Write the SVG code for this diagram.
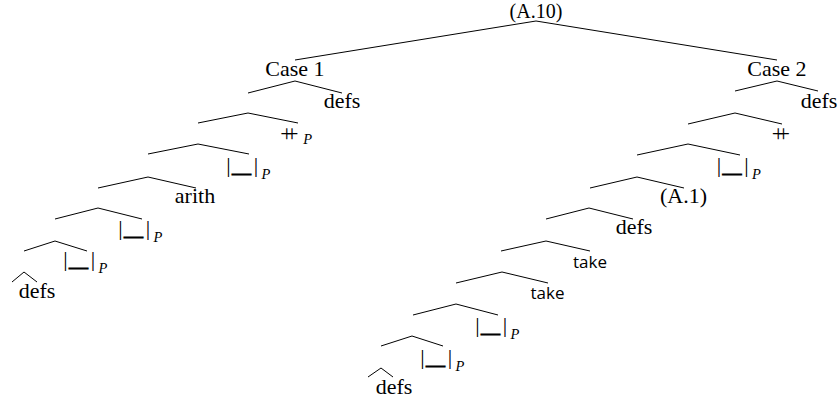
<svg xmlns="http://www.w3.org/2000/svg" width="839" height="401" viewBox="0 0 839 401">
<style>
text{font-family:'Liberation Serif','DejaVu Serif',serif;font-size:22px;fill:#000}
.m{text-anchor:middle}
.sf{font-family:'Open Sans','Liberation Sans',sans-serif;font-size:17px}
.us{stroke:#000;stroke-width:1}
.sub{font-style:italic;font-size:14.5px}
.pp{font-size:23px;letter-spacing:-7.7px}
#connectors line{stroke:#000;stroke-width:1;fill:none}
</style>
<rect width="839" height="401" fill="#fff"/>
<g id="connectors">
<line x1="536" y1="21" x2="295" y2="60"/><line x1="536" y1="21" x2="777" y2="60"/>
<line x1="295" y1="81" x2="248" y2="93"/><line x1="295" y1="81" x2="342" y2="93"/>
<line x1="248" y1="113" x2="198" y2="123"/><line x1="248" y1="113" x2="298" y2="123"/>
<line x1="198" y1="144" x2="148" y2="154"/><line x1="198" y1="144" x2="249" y2="154"/>
<line x1="148" y1="177" x2="98" y2="188"/><line x1="148" y1="177" x2="196" y2="188"/>
<line x1="98" y1="208" x2="55" y2="219"/><line x1="98" y1="208" x2="142" y2="219"/>
<line x1="55" y1="241" x2="24" y2="251"/><line x1="55" y1="241" x2="87" y2="251"/>
<line x1="24" y1="272" x2="12" y2="282"/><line x1="24" y1="272" x2="37" y2="282"/>
<line x1="777" y1="81" x2="735" y2="91"/><line x1="777" y1="81" x2="818" y2="91"/>
<line x1="735" y1="113" x2="688" y2="124"/><line x1="735" y1="113" x2="782" y2="124"/>
<line x1="688" y1="144" x2="637" y2="155"/><line x1="688" y1="144" x2="740" y2="155"/>
<line x1="637" y1="177" x2="590" y2="188"/><line x1="637" y1="177" x2="684" y2="188"/>
<line x1="589" y1="208" x2="546" y2="219"/><line x1="589" y1="208" x2="633" y2="219"/>
<line x1="546" y1="241" x2="501" y2="251"/><line x1="546" y1="241" x2="590" y2="251"/>
<line x1="502" y1="272" x2="456" y2="283"/><line x1="502" y1="272" x2="548" y2="283"/>
<line x1="456" y1="304" x2="413" y2="315"/><line x1="456" y1="304" x2="498" y2="315"/>
<line x1="412" y1="336" x2="381" y2="346"/><line x1="412" y1="336" x2="443" y2="346"/>
<line x1="381" y1="368" x2="368" y2="377"/><line x1="381" y1="368" x2="393" y2="377"/>
</g>
<g id="root"><text class="m" x="536" y="18" style="font-size:20px">(A.10)</text></g>
<g id="case1"><text class="m" x="295" y="76">Case 1</text></g>
<g id="case2"><text class="m" x="777" y="76">Case 2</text></g>
<g id="l-defs1"><text class="m" x="342" y="108">defs</text></g>
<g id="l-concat"><text class="pp" x="280.2" y="140.5">++</text><text class="sub" x="303.3" y="143.5">P</text></g>
<g id="l-hole1"><text class="m" x="228.5" y="172">|</text><text class="us" x="232.5" y="172" textLength="18" lengthAdjust="spacingAndGlyphs">_</text><text class="m" x="256" y="172">|</text><text class="sub" x="261.5" y="178.5">P</text></g>
<g id="l-arith"><text class="m" x="195" y="203">arith</text></g>
<g id="l-hole2"><text class="m" x="120.5" y="235">|</text><text class="us" x="124.5" y="235" textLength="18" lengthAdjust="spacingAndGlyphs">_</text><text class="m" x="148" y="235">|</text><text class="sub" x="153.5" y="241.5">P</text></g>
<g id="l-hole3"><text class="m" x="65.5" y="266">|</text><text class="us" x="69.5" y="266" textLength="18" lengthAdjust="spacingAndGlyphs">_</text><text class="m" x="93" y="266">|</text><text class="sub" x="98.5" y="272.5">P</text></g>
<g id="l-defs2"><text class="m" x="37" y="298">defs</text></g>
<g id="r-defs1"><text class="m" x="819" y="108">defs</text></g>
<g id="r-concat"><text class="pp" x="771.8" y="140.5">++</text></g>
<g id="r-hole1"><text class="m" x="719" y="172">|</text><text class="us" x="723" y="172" textLength="18" lengthAdjust="spacingAndGlyphs">_</text><text class="m" x="746.5" y="172">|</text><text class="sub" x="752" y="178.5">P</text></g>
<g id="r-a1"><text class="m" x="683.5" y="203">(A.1)</text></g>
<g id="r-defs2"><text class="m" x="634" y="234">defs</text></g>
<g id="r-take1"><text class="m sf" x="590" y="267.5">take</text></g>
<g id="r-take2"><text class="m sf" x="547.5" y="298.5">take</text></g>
<g id="r-hole2"><text class="m" x="477.5" y="332">|</text><text class="us" x="481.5" y="332" textLength="18" lengthAdjust="spacingAndGlyphs">_</text><text class="m" x="505" y="332">|</text><text class="sub" x="510.5" y="338.5">P</text></g>
<g id="r-hole3"><text class="m" x="422.5" y="364">|</text><text class="us" x="426.5" y="364" textLength="18" lengthAdjust="spacingAndGlyphs">_</text><text class="m" x="450" y="364">|</text><text class="sub" x="455.5" y="370.5">P</text></g>
<g id="r-defs3"><text class="m" x="394" y="394">defs</text></g>
</svg>
